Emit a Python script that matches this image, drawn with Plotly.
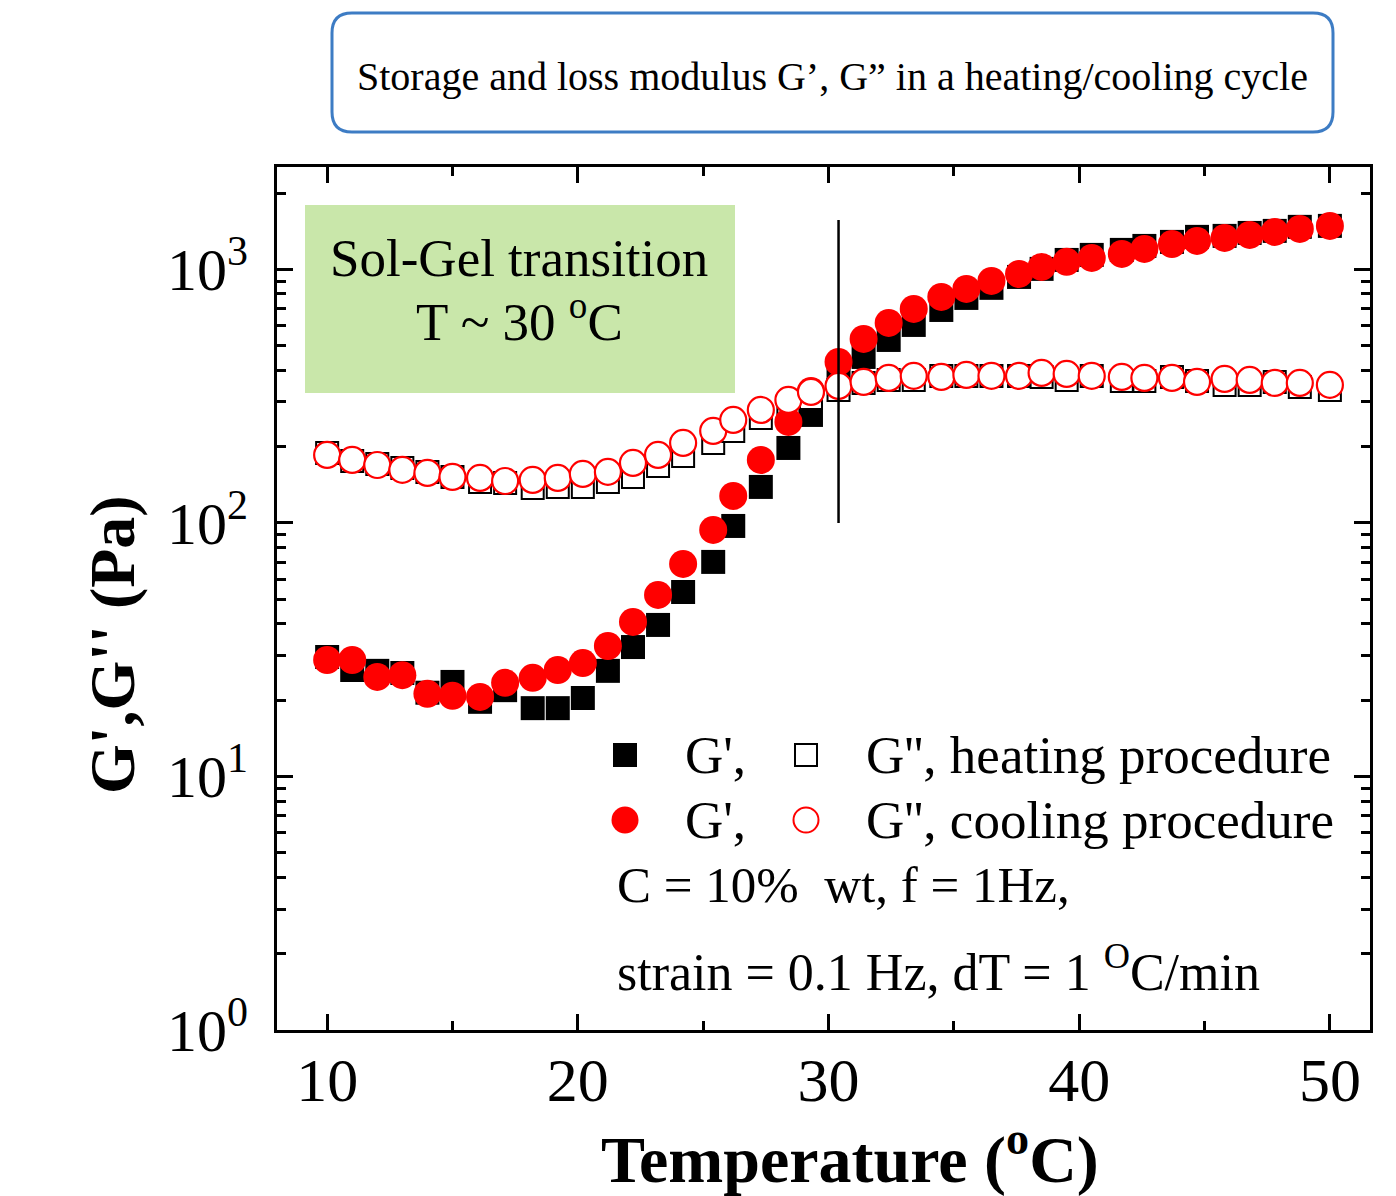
import plotly.graph_objects as go

# ---------------- data ----------------
temperature = [10.0, 11.0, 12.0, 13.0, 14.0, 15.0, 16.1, 17.1, 18.2, 19.2,
               20.2, 21.2, 22.2, 23.2, 24.2, 25.4, 26.2, 27.3, 28.4, 29.3,
               30.4, 31.4, 32.4, 33.4, 34.5, 35.5, 36.5, 37.6, 38.5, 39.5,
               40.5, 41.7, 42.6, 43.7, 44.7, 45.8, 46.8, 47.8, 48.8, 50.0]

heat_G1 = [29.6, 26.3, 26.1, 25.6, 21.4, 23.6, 19.7, 21.9, 18.6, 18.6,
           20.4, 26.1, 32.4, 39.6, 53.4, 70.2, 97.3, 138.7, 197.6, 266.7,
           383.6, 451.6, 527, 604, 692, 772, 846, 934, 1005, 1090,
           1141, 1194, 1238, 1284, 1344, 1356, 1393, 1419, 1472, 1485]

heat_G2 = [188.9, 175.6, 170.9, 164.8, 158.9, 151.9, 145.1, 143.8, 137.4, 138.7,
           138.7, 145.1, 151.9, 167.9, 183.8, 206.8, 230.7, 259.6, 284.2, 311.3,
           334.7, 356.6, 366.5, 366.5, 380.2, 380.2, 380.2, 380.2, 376.7, 366.5,
           380.2, 363.2, 363.2, 376.7, 363.2, 350.4, 350.4, 359.9, 344.0, 334.7]

cool_G1 = [28.8, 28.8, 24.7, 25.1, 21.2, 20.8, 20.6, 23.4, 24.5, 26.3,
           28.0, 32.7, 40.7, 52.0, 68.9, 93.9, 127.8, 177.2, 250.2, 331.7,
           431.6, 531.9, 615.2, 698.8, 778.9, 837.6, 900.8, 959.8, 1023, 1071,
           1110, 1151, 1205, 1260, 1295, 1331, 1368, 1406, 1445, 1485]

cool_G2 = [185.5, 177.2, 169.3, 161.9, 157.5, 151.9, 150.5, 146.4, 147.8, 150.5,
           156.1, 159.0, 172.5, 185.5, 206.8, 230.7, 254.9, 279.1, 305.6, 328.7,
           347.1, 359.9, 373.3, 380.2, 376.7, 383.6, 380.2, 380.2, 390.6, 387.0,
           380.2, 376.7, 373.3, 373.3, 359.9, 369.8, 366.5, 356.6, 356.6, 350.4]

transition_T = 30.4
x_ticks = [10, 20, 30, 40, 50]
y_ticks = [1, 10, 100, 1000]
y_tick_text = ["10<sup>0</sup>", "10<sup>1</sup>", "10<sup>2</sup>", "10<sup>3</sup>"]

title_text = "Storage and loss modulus G’, G” in a heating/cooling cycle"
box_line1 = "Sol-Gel transition"
box_line2 = "T ~ 30 <sup>o</sup>C"
legend_row1_a = "G',"
legend_row1_b = "G'', heating procedure"
legend_row2_a = "G',"
legend_row2_b = "G'', cooling procedure"
note1 = "C = 10%  wt, f = 1Hz,"
note2 = "strain = 0.1 Hz, dT = 1 <sup>O</sup>C/min"

FONT = "Liberation Serif, Times New Roman, serif"

fig = go.Figure()

fig.add_trace(go.Scatter(x=temperature, y=heat_G1, mode="markers",
                         marker=dict(symbol="square", size=24, color="black",
                                     line=dict(width=0)), name="G' heating"))
fig.add_trace(go.Scatter(x=temperature, y=heat_G2, mode="markers",
                         marker=dict(symbol="square", size=22, color="white",
                                     line=dict(width=2, color="black")), name="G'' heating"))
fig.add_trace(go.Scatter(x=temperature, y=cool_G1, mode="markers",
                         marker=dict(symbol="circle", size=28, color="#ff0000",
                                     line=dict(width=0)), name="G' cooling"))
fig.add_trace(go.Scatter(x=temperature, y=cool_G2, mode="markers",
                         marker=dict(symbol="circle", size=26, color="white",
                                     line=dict(width=2.2, color="#ff0000")), name="G'' cooling"))

# plot area geometry (pixels)
L, R, T, B = 277, 1370, 167, 1030
W, H = R - L, B - T


def px(x):
    return (x - L) / W


def py(y):
    return (B - y) / H


shapes = []
# green box
shapes.append(dict(type="rect", xref="paper", yref="paper",
                   x0=px(305), x1=px(735), y0=py(393), y1=py(205),
                   fillcolor="#c9e7aa", line=dict(width=0), layer="below"))
# vertical transition line
shapes.append(dict(type="line", xref="x", yref="paper",
                   x0=transition_T, x1=transition_T, y0=py(523), y1=py(220),
                   line=dict(color="black", width=2.5)))
# rounded title box
x0, x1, y0, y1 = 332, 1333, 13, 132
r = 20
path = (f"M {px(x0 + r)},{py(y0)} L {px(x1 - r)},{py(y0)} "
        f"Q {px(x1)},{py(y0)} {px(x1)},{py(y0 + r)} "
        f"L {px(x1)},{py(y1 - r)} Q {px(x1)},{py(y1)} {px(x1 - r)},{py(y1)} "
        f"L {px(x0 + r)},{py(y1)} Q {px(x0)},{py(y1)} {px(x0)},{py(y1 - r)} "
        f"L {px(x0)},{py(y0 + r)} Q {px(x0)},{py(y0)} {px(x0 + r)},{py(y0)} Z")
shapes.append(dict(type="path", xref="paper", yref="paper", path=path,
                   line=dict(color="#3d7cc4", width=3), fillcolor="rgba(0,0,0,0)"))


# legend symbols (pixel-sized shapes anchored in paper coords)
def sym(kind, cx, cy, size, fill, line_color, lw):
    return dict(type=kind, xref="paper", yref="paper",
                xsizemode="pixel", ysizemode="pixel",
                xanchor=px(cx), yanchor=py(cy),
                x0=-size / 2, x1=size / 2, y0=-size / 2, y1=size / 2,
                fillcolor=fill, line=dict(color=line_color, width=lw))


shapes.append(sym("rect", 625, 755, 24, "black", "black", 0))
shapes.append(sym("rect", 806, 755, 22, "white", "black", 2))
shapes.append(sym("circle", 625, 820, 27, "#ff0000", "#ff0000", 0))
shapes.append(sym("circle", 806, 820, 25, "white", "#ff0000", 2))

ann = []


def text(t, x, y, size, xanchor="left", bold=False, angle=0):
    ann.append(dict(text=f"<b>{t}</b>" if bold else t, xref="paper", yref="paper",
                    x=px(x), y=py(y), xanchor=xanchor, yanchor="middle",
                    showarrow=False, textangle=angle,
                    font=dict(family=FONT, size=size, color="black")))


text(title_text, 832, 77, 40, xanchor="center")
text(box_line1, 519, 258, 53, xanchor="center")
text(box_line2, 519, 318, 53, xanchor="center")
text(legend_row1_a, 683, 755, 53)
text(legend_row1_b, 864, 755, 53)
text(legend_row2_a, 683, 820, 53)
text(legend_row2_b, 864, 820, 53)
text(note1, 615, 885, 51)
text(note2, 615, 968, 52)
text("Temperature (<sup>o</sup>C)", 850, 1155, 66, xanchor="center", bold=True)
text("G',G'' (Pa)", 112, 645, 64, xanchor="center", bold=True, angle=-90)

minor_y = [m * d for d in (1, 10, 100) for m in range(2, 10)] + [2000]

fig.update_layout(
    width=1396, height=1196,
    margin=dict(l=L, r=1396 - R, t=T, b=1196 - B, pad=0),
    plot_bgcolor="white", paper_bgcolor="white",
    showlegend=False,
    shapes=shapes, annotations=ann,
    font=dict(family=FONT, color="black"),
)
fig.update_xaxes(range=[8.0, 51.6], showgrid=False, zeroline=False,
                 showline=True, linewidth=3, linecolor="black", mirror="ticks",
                 ticks="inside", ticklen=16, tickwidth=3, tickcolor="black",
                 tickvals=x_ticks, ticklabelstandoff=-6,
                 tickfont=dict(family=FONT, size=62, color="black"),
                 minor=dict(tickvals=[15, 25, 35, 45], ticks="inside", ticklen=9,
                            tickwidth=3, tickcolor="black", showgrid=False))
fig.update_yaxes(type="log", range=[0, 3.404], showgrid=False, zeroline=False,
                 showline=True, linewidth=3, linecolor="black", mirror="ticks",
                 ticks="inside", ticklen=16, tickwidth=3, tickcolor="black",
                 tickvals=y_ticks, ticktext=y_tick_text, ticklabelstandoff=14,
                 tickfont=dict(family=FONT, size=60, color="black"),
                 minor=dict(tickvals=minor_y, ticks="inside", ticklen=9,
                            tickwidth=2.5, tickcolor="black", showgrid=False))

fig.write_html("out.html")
